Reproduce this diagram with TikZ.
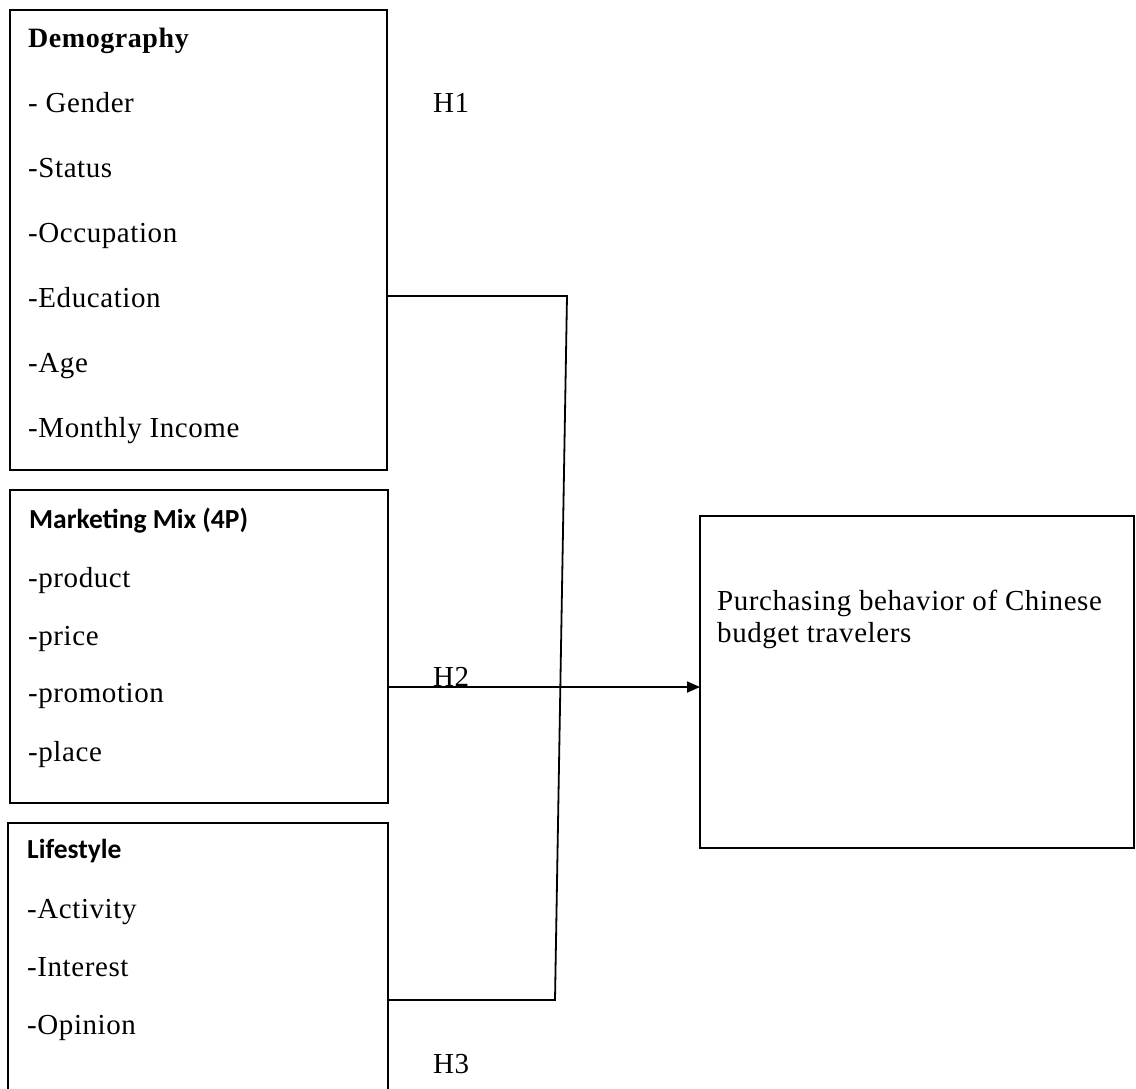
\documentclass[tikz,border=0pt]{standalone}
\usepackage{fontspec}
\setmainfont{Liberation Serif}[LetterSpace=2]
\newfontfamily\calib{Carlito}
\usetikzlibrary{arrows.meta}
\tikzset{
  box/.style={draw, line width=1.8pt, inner sep=0pt, outer sep=0pt, anchor=north west},
  txt/.style={anchor=base west, inner sep=0pt, font=\fontsize{29}{33}\selectfont},
  hd/.style={anchor=base west, inner sep=0pt, font=\fontsize{28}{32}\selectfont\bfseries},
  sh/.style={anchor=base west, inner sep=0pt, font=\fontsize{27.5}{32}\selectfont\calib\bfseries},
  conn/.style={line width=1.8pt},
}
\begin{document}
\begin{tikzpicture}[x=1pt,y=-1pt]
\useasboundingbox[fill=white] (0,0) rectangle (1136,1088);
% boxes
\node[box, minimum width=377pt, minimum height=460pt] (demo) at (10,10) {};
\node[box, minimum width=378pt, minimum height=313pt] (mix) at (10,490) {};
\node[box, minimum width=380pt, minimum height=280pt] (life) at (8,823) {};
\node[box, minimum width=434pt, minimum height=332pt] (pur) at (700,516) {};
% demography text
\node[hd] (t0) at (28,47) {Demography};
\node[txt] (t1) at (28,112) {- Gender};
\node[txt] (t2) at (28,177) {-Status};
\node[txt] (t3) at (28,242) {-Occupation};
\node[txt] (t4) at (28,307) {-Education};
\node[txt] (t5) at (28,372) {-Age};
\node[txt] (t6) at (28,437) {-Monthly Income};
% marketing mix
\node[sh] (m0) at (29,528) {Marketing Mix (4P)};
\node[txt] (m1) at (28,587) {-product};
\node[txt] (m2) at (28,645) {-price};
\node[txt] (m3) at (28,702) {-promotion};
\node[txt] (m4) at (28,761) {-place};
% lifestyle
\node[sh] (l0) at (27,858) {Lifestyle};
\node[txt] (l1) at (27,918) {-Activity};
\node[txt] (l2) at (27,976) {-Interest};
\node[txt] (l3) at (27,1034) {-Opinion};
% outcome
\node[txt] (p1) at (717,610) {Purchasing behavior of Chinese};
\node[txt] (p2) at (717,642) {budget travelers};
% hypothesis labels
\node[txt] (h1) at (433,112) {H1};
\node[txt] (h2) at (433,686) {H2};
\node[txt] (h3) at (433,1073) {H3};
% connectors
\coordinate (jt) at (567,296);
\coordinate (jb) at (555,1000);
\draw[conn] (demo.east |- jt) -- (jt) -- (jb) -- (life.east |- jb);
\coordinate (ay) at (0,687);
\draw[conn, -{Triangle[length=13pt,width=11pt]}] (mix.east |- ay) -- (pur.west |- ay);
\end{tikzpicture}
\end{document}
